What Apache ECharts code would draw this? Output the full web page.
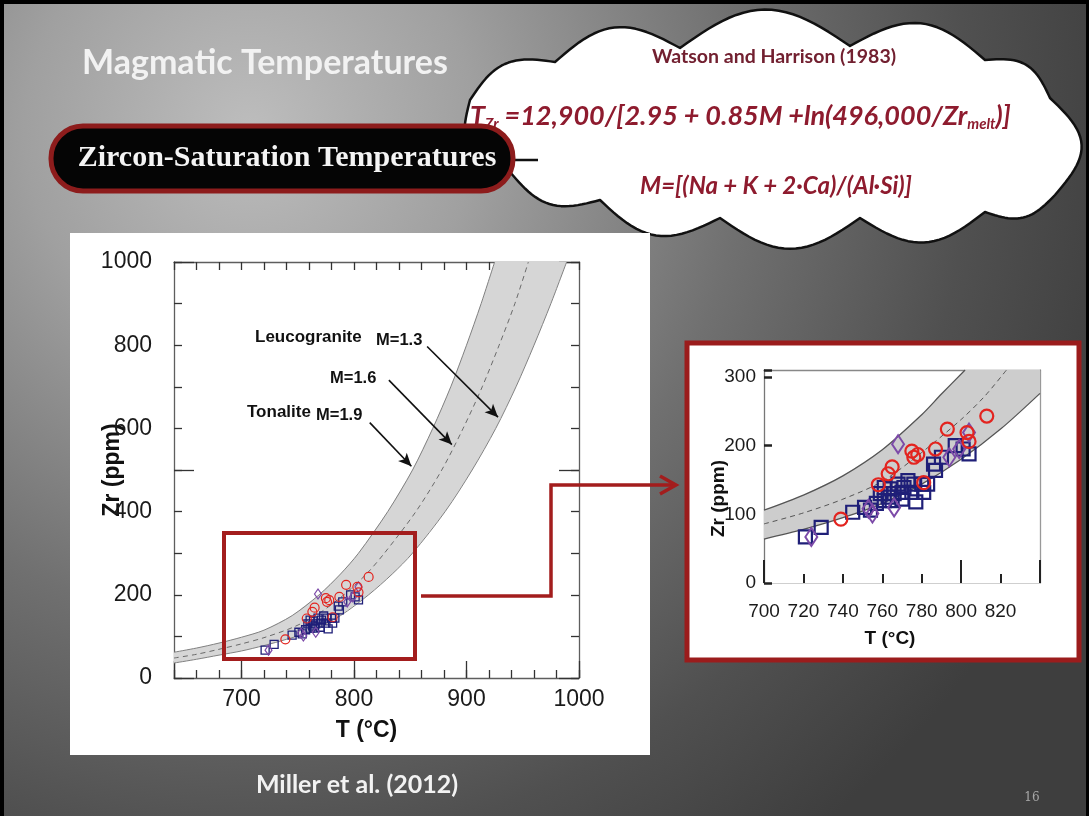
<!DOCTYPE html>
<html>
<head>
<meta charset="utf-8">
<script src="https://cdn.jsdelivr.net/npm/echarts@6/dist/echarts.min.js"></script>
<style>
  html, body { margin: 0; padding: 0; background: #4a4a4a; }
  #c { width: 1089px; height: 816px; }
</style>
</head>
<body>
<div id="c"></div>
<script>
// ---------- Zircon-saturation curves, [T (°C), Zr (ppm)] ----------
// Main panel: M = 1.9 (tonalite), 1.6, 1.3 (leucogranite)
const curveM19 = [[640, 62], [660, 72], [680, 84], [700, 98], [720, 115], [745, 150], [769, 200],
                  [788, 250], [804, 300], [830, 400], [852, 500], [870, 600], [886, 700], [900, 800], [913, 900], [925, 1000]];
const curveM16 = [[640, 48], [660, 57], [680, 69], [700, 82], [720, 97], [745, 121], [766, 150], [791, 200],
                  [811, 250], [827, 300], [855, 400], [878, 500], [897, 600], [914, 700], [929, 800], [943, 900], [955, 1000]];
const curveM13 = [[640, 36], [660, 45], [680, 55], [700, 65], [720, 78], [740, 93], [760, 110], [788, 150], [813, 200],
                  [834, 250], [852, 300], [881, 400], [905, 500], [926, 600], [944, 700], [960, 800], [975, 900], [989, 1000]];

// Enlarged panel curves
const zoomM19 = [[700, 106], [720, 128], [740, 156], [760, 194], [780, 245], [790, 275], [802, 310]];
const zoomM16 = [[700, 86], [720, 102], [740, 122], [760, 148], [780, 190], [800, 238], [812, 272], [823, 310]];
const zoomM13 = [[700, 64], [720, 78], [740, 95], [760, 116], [780, 144], [800, 180], [820, 224], [840, 276]];

// ---------- Samples, [T (°C), Zr (ppm)] ----------
const samplesSquare = [[721, 67], [729, 81], [745, 103], [751, 110], [754, 106], [757, 116],
                       [759, 130], [761, 139], [763, 125], [764, 137], [766, 130], [768, 144], [770, 132],
                       [771, 139], [773, 149], [775, 132], [776, 144], [761, 120], [765, 120], [770, 122],
                       [777, 118], [780, 144], [783, 144], [781, 132], [787, 164], [786, 173], [790, 183],
                       [797, 200], [801, 195], [804, 188]];
const samplesDiamond = [[724, 67], [755, 101], [753, 108], [766, 110], [768, 202], [794, 183], [799, 195], [804, 219]];
const samplesCircle = [[739, 93], [758, 143], [763, 159], [765, 169], [775, 192], [776, 183], [778, 187],
                       [781, 146], [787, 195], [793, 224], [803, 219], [804, 206], [813, 243]];

// ---------- Tick labels ----------
const mainXLabels = [700, 800, 900, 1000];
const mainYLabels = [0, 200, 400, 600, 800, 1000];
const zoomXLabels = [700, 720, 740, 760, 780, 800, 820];
const zoomYLabels = [0, 100, 200, 300];

// Pointer arrows from the curve labels, [[T, Zr], [T, Zr]]
const pointerArrows = [
  [[865, 797], [928, 627]],
  [[831, 716], [887, 561]],
  [[814, 614], [851, 509]]
];

// ---------- Styling ----------
const AX = '"Liberation Sans", Arial, sans-serif';
const SLIDE = 'Lato, "Open Sans", sans-serif';
const RED = '#e3241f', NAVY = '#1f1f78', PURPLE = '#7c4aa8';
const FRAME = '#5e5e5e';
const MAROON = '#8e1b2e';

const mainRange = { xMin: 640, xMax: 1000, yMin: 0, yMax: 1000 };
const zoomRange = { xMin: 700, xMax: 840, yMin: 0, yMax: 310 };

function bandSeries(upper, lower, xi, yi, fill, corner) {
  const pts = upper.concat(corner ? [corner] : [], lower.slice().reverse());
  return {
    type: 'custom', xAxisIndex: xi, yAxisIndex: yi, clip: true, silent: true, z: 1,
    data: [upper[0]],
    renderItem: function (params, api) {
      return {
        type: 'polygon',
        shape: { points: pts.map(function (p) { return api.coord(p); }) },
        style: { fill: fill, stroke: null }
      };
    }
  };
}

function curveSeries(data, xi, yi, color, width, dashed, extra) {
  return Object.assign({
    type: 'line', xAxisIndex: xi, yAxisIndex: yi, data: data, smooth: 0.3,
    showSymbol: false, symbol: 'none', silent: true, z: 3, clip: true,
    lineStyle: { color: color, width: width, type: dashed ? [5, 4] : 'solid' }
  }, extra || {});
}

function scatterSeries(data, xi, yi, symbol, size, color, lw) {
  return {
    type: 'scatter', xAxisIndex: xi, yAxisIndex: yi, data: data, symbol: symbol, symbolSize: size,
    silent: true, z: 5,
    itemStyle: { color: 'rgba(0,0,0,0)', borderColor: color, borderWidth: lw, opacity: 1 }
  };
}

function tickAxis(o) {
  return Object.assign({
    type: 'value', splitLine: { show: false }, nameMoveOverlap: false,
    axisLine: { show: true, onZero: false, lineStyle: { color: FRAME, width: 1.3 } },
    axisTick: { show: true, inside: true, length: 8, lineStyle: { color: '#333', width: 1.3 } },
    axisLabel: { show: false }
  }, o);
}

// ---------- Thought-cloud outline ----------
// notch points around the cloud (clockwise) and how far each following lobe bulges out
const cloudNotches = [[470, 100, 0.2], [555, 62, 0.22], [680, 48, 0.22], [850, 46, 0.22], [985, 60, 0.22],
                      [1050, 98, 0.3], [1055, 195, 0.2], [985, 212, 0.22], [860, 218, 0.22],
                      [720, 218, 0.22], [600, 200, 0.2], [510, 172, 0.3]];
function cloudPath(notches) {
  const pts = [];
  for (let i = 0; i < notches.length; i++) {
    const a = notches[i], b = notches[(i + 1) % notches.length];
    const dx = b[0] - a[0], dy = b[1] - a[1], len = Math.sqrt(dx * dx + dy * dy);
    const nx = dy / len, ny = -dx / len, sag = a[2] * len;
    for (let k = 0; k < 24; k++) {
      const t = k / 24, bump = sag * Math.sin(Math.PI * t);
      pts.push([a[0] + dx * t + nx * bump, a[1] + dy * t + ny * bump]);
    }
  }
  return pts;
}

const graphics = [];
// slide background
graphics.push({
  type: 'rect', z: -100, shape: { x: 0, y: 0, width: 1089, height: 816 },
  style: { fill: { type: 'radial', x: 250, y: 130, r: 900, global: true,
    colorStops: [{ offset: 0, color: '#bdbdbd' }, { offset: 0.25, color: '#a0a0a0' },
                 { offset: 0.55, color: '#707070' }, { offset: 0.8, color: '#505050' },
                 { offset: 1, color: '#3e3e3e' }] } }
});
graphics.push({ type: 'rect', z: -99, shape: { x: 0, y: 0, width: 1089, height: 4 }, style: { fill: '#000' } });
graphics.push({ type: 'rect', z: -99, shape: { x: 0, y: 0, width: 4, height: 816 }, style: { fill: '#000' } });
graphics.push({ type: 'rect', z: -99, shape: { x: 1086, y: 0, width: 3, height: 816 }, style: { fill: '#000' } });

// title
graphics.push({
  type: 'text', z: -95, x: 82, y: 63,
  style: { text: 'Magmatic Temperatures', fill: '#f2f2f2', fontFamily: SLIDE, fontWeight: 'bold', fontSize: 34,
           align: 'left', verticalAlign: 'middle', textAlign: 'left', textVerticalAlign: 'middle',
           shadowColor: 'rgba(0,0,0,0.35)', shadowBlur: 3, shadowOffsetX: 1, shadowOffsetY: 1 }
});

// cloud
graphics.push({ type: 'polygon', z: -92, shape: { points: cloudPath(cloudNotches) },
                style: { fill: '#ffffff', stroke: '#111', lineWidth: 2.5, lineJoin: 'round' } });

// cloud text
graphics.push({
  type: 'text', z: -89, x: 774, y: 57,
  style: { text: 'Watson and Harrison (1983)', fill: '#722030', fontFamily: SLIDE, fontWeight: 'bold', fontSize: 19.5,
           align: 'center', verticalAlign: 'middle', textAlign: 'center', textVerticalAlign: 'middle' }
});
graphics.push({
  type: 'text', z: -89, x: 470, y: 116,
  style: {
    text: '{b|T}{s|Zr}{b| =12,900/[2.95 + 0.85M +ln(496,000/Zr}{s|melt}{b|)]}',
    align: 'left', verticalAlign: 'middle', textAlign: 'left', textVerticalAlign: 'middle',
    rich: {
      b: { fill: MAROON, fontFamily: SLIDE, fontWeight: 'bold', fontStyle: 'italic', fontSize: 27,
           lineHeight: 34, verticalAlign: 'bottom', padding: [0, 0, 3, 0] },
      s: { fill: MAROON, fontFamily: SLIDE, fontWeight: 'bold', fontStyle: 'italic', fontSize: 15,
           lineHeight: 34, verticalAlign: 'bottom', padding: [0, 0, 1, 0] }
    }
  }
});
graphics.push({
  type: 'text', z: -89, x: 776, y: 186,
  style: { text: 'M=[(Na + K + 2·Ca)/(Al·Si)]', fill: MAROON, fontFamily: SLIDE, fontWeight: 'bold',
           fontStyle: 'italic', fontSize: 24,
           align: 'center', verticalAlign: 'middle', textAlign: 'center', textVerticalAlign: 'middle' }
});

// heading pill
graphics.push({ type: 'line', z: -88, shape: { x1: 505, y1: 160, x2: 538, y2: 160 }, style: { stroke: '#111', lineWidth: 2.5 } });
graphics.push({
  type: 'rect', z: -88, shape: { x: 51, y: 126, width: 462, height: 65, r: 32 },
  style: { fill: '#050505', stroke: '#8d1c1c', lineWidth: 5 }
});
graphics.push({
  type: 'text', z: -87, x: 287, y: 158,
  style: { text: 'Zircon-Saturation Temperatures', fill: '#f4f4f4', fontFamily: '"Liberation Serif", "Times New Roman", serif',
           fontWeight: 'bold', fontSize: 30,
           align: 'center', verticalAlign: 'middle', textAlign: 'center', textVerticalAlign: 'middle' }
});

// figure panels
graphics.push({ type: 'rect', z: -80, shape: { x: 70, y: 233, width: 580, height: 522 }, style: { fill: '#ffffff' } });
graphics.push({ type: 'rect', z: -80, shape: { x: 687, y: 343, width: 392, height: 317 },
                style: { fill: '#ffffff', stroke: '#9b1c1c', lineWidth: 5 } });

// curve labels
function note(text, x, y, size) {
  return { type: 'text', z: 50, x: x, y: y,
           style: { text: text, fill: '#111', fontFamily: AX, fontWeight: 'bold', fontSize: size,
                    align: 'left', verticalAlign: 'middle', textAlign: 'left', textVerticalAlign: 'middle' } };
}
graphics.push(note('Leucogranite', 255, 337, 17));
graphics.push(note('M=1.3', 376, 340, 16.5));
graphics.push(note('M=1.6', 330, 378, 16.5));
graphics.push(note('Tonalite', 247, 412, 17));
graphics.push(note('M=1.9', 316, 415, 16.5));

// highlight box and connector
graphics.push({ type: 'rect', z: 60, shape: { x: 224, y: 533, width: 191, height: 126 },
                style: { fill: null, stroke: '#a31d1d', lineWidth: 4 } });
graphics.push({ type: 'polyline', z: 60, shape: { points: [[421, 596], [551, 596], [551, 485], [674, 485]] },
                style: { fill: null, stroke: '#a31d1d', lineWidth: 3.5 } });
graphics.push({ type: 'polyline', z: 60, shape: { points: [[660, 476], [676, 485], [660, 494]] },
                style: { fill: null, stroke: '#a31d1d', lineWidth: 3.5 } });

// source + page number
graphics.push({
  type: 'text', z: -70, x: 357, y: 785,
  style: { text: 'Miller et al. (2012)', fill: '#f2f2f2', fontFamily: SLIDE, fontWeight: 'bold', fontSize: 25,
           align: 'center', verticalAlign: 'middle', textAlign: 'center', textVerticalAlign: 'middle' }
});
graphics.push({
  type: 'text', z: -70, x: 1032, y: 798,
  style: { text: '16', fill: '#a8a8a8', fontFamily: '"DejaVu Serif", serif', fontSize: 12,
           align: 'center', verticalAlign: 'middle', textAlign: 'center', textVerticalAlign: 'middle' }
});

const option = {
  animation: false,
  backgroundColor: 'transparent',
  graphic: { elements: graphics },
  grid: [
    { left: 174, top: 262, width: 405, height: 416 },
    { left: 764, top: 370, width: 276, height: 213 }
  ],
  xAxis: [
    // main panel
    tickAxis({ gridIndex: 0, position: 'bottom', min: mainRange.xMin, max: mainRange.xMax, interval: 20,
               name: 'T (°C)', nameLocation: 'middle', nameGap: 41,
               nameTextStyle: { fontFamily: AX, fontWeight: 'bold', fontSize: 23, color: '#111', padding: [0, 20, 0, 0] } }),
    tickAxis({ gridIndex: 0, position: 'bottom', min: mainRange.xMin, max: mainRange.xMax, splitNumber: 4,
               axisLine: { show: false }, axisTick: { show: true, inside: true, length: 17, lineStyle: { color: '#333', width: 1.3 } },
               axisLabel: { show: true, margin: 10, fontFamily: AX, fontSize: 23, color: '#1a1a1a',
                            formatter: function (v) { return mainXLabels.indexOf(v) >= 0 ? String(v) : ''; } } }),
    tickAxis({ gridIndex: 0, position: 'top', min: mainRange.xMin, max: mainRange.xMax, interval: 20 }),
    // enlarged panel
    tickAxis({ gridIndex: 1, position: 'bottom', min: zoomRange.xMin, max: zoomRange.xMax, interval: 20,
               axisLine: { show: true, onZero: false, lineStyle: { color: '#cfcfcf', width: 1 } },
               axisTick: { show: true, inside: true, length: 9, lineStyle: { color: '#222', width: 2 } },
               axisLabel: { show: true, margin: 19, fontFamily: AX, fontSize: 19, color: '#1a1a1a',
                            formatter: function (v) { return zoomXLabels.indexOf(v) >= 0 ? String(v) : ''; } },
               name: 'T (°C)', nameLocation: 'middle', nameGap: 46,
               nameTextStyle: { fontFamily: AX, fontWeight: 'bold', fontSize: 19, color: '#111', padding: [0, 24, 0, 0] } }),
    tickAxis({ gridIndex: 1, position: 'bottom', min: zoomRange.xMin, max: zoomRange.xMax, interval: 100,
               axisLine: { show: false },
               axisTick: { show: true, inside: true, length: 23, lineStyle: { color: '#222', width: 2 } } }),
    tickAxis({ gridIndex: 1, position: 'top', min: zoomRange.xMin, max: zoomRange.xMax,
               axisLine: { show: true, onZero: false, lineStyle: { color: '#888', width: 1.3 } },
               axisTick: { show: false } })
  ],
  yAxis: [
    // main panel
    tickAxis({ gridIndex: 0, position: 'left', min: mainRange.yMin, max: mainRange.yMax, interval: 100,
               axisLabel: { show: true, margin: 22, fontFamily: AX, fontSize: 23, color: '#1a1a1a',
                            formatter: function (v) { return mainYLabels.indexOf(v) >= 0 ? String(v) : ''; } },
               name: 'Zr (ppm)', nameLocation: 'middle', nameGap: 50,
               nameTextStyle: { fontFamily: AX, fontWeight: 'bold', fontSize: 23, color: '#111' } }),
    tickAxis({ gridIndex: 0, position: 'right', min: mainRange.yMin, max: mainRange.yMax, interval: 100 }),
    tickAxis({ gridIndex: 0, position: 'left', min: mainRange.yMin, max: mainRange.yMax, interval: 500,
               axisLine: { show: false }, axisTick: { show: true, inside: true, length: 20, lineStyle: { color: '#333', width: 1.3 } } }),
    tickAxis({ gridIndex: 0, position: 'right', min: mainRange.yMin, max: mainRange.yMax, interval: 500,
               axisLine: { show: false }, axisTick: { show: true, inside: true, length: 20, lineStyle: { color: '#333', width: 1.3 } } }),
    // enlarged panel
    tickAxis({ gridIndex: 1, position: 'left', min: zoomRange.yMin, max: zoomRange.yMax, interval: 100,
               axisLine: { show: true, onZero: false, lineStyle: { color: '#777', width: 1.3 } },
               axisTick: { show: true, inside: true, length: 8, lineStyle: { color: '#222', width: 2.5 } },
               axisLabel: { show: true, margin: 8, fontFamily: AX, fontSize: 19, color: '#1a1a1a',
                            formatter: function (v) { return zoomYLabels.indexOf(v) >= 0 ? String(v) : ''; } },
               name: 'Zr (ppm)', nameLocation: 'middle', nameGap: 36,
               nameTextStyle: { fontFamily: AX, fontWeight: 'bold', fontSize: 19, color: '#111', padding: [0, 44, 0, 0] } }),
    tickAxis({ gridIndex: 1, position: 'right', min: zoomRange.yMin, max: zoomRange.yMax,
               axisLine: { show: true, onZero: false, lineStyle: { color: '#999', width: 1.3 } },
               axisTick: { show: false } })
  ],
  series: [
    // main panel
    bandSeries(curveM19, curveM13, 0, 0, '#d6d6d6'),
    curveSeries(curveM19, 0, 0, '#808080', 1, false),
    curveSeries(curveM13, 0, 0, '#808080', 1, false),
    curveSeries(curveM16, 0, 0, '#6a6a6a', 1, true, {
      markLine: {
        silent: true, symbol: ['none', 'arrow'], symbolSize: [9, 13], animation: false,
        label: { show: false },
        lineStyle: { color: '#111', width: 1.6, type: 'solid' },
        emphasis: { disabled: true },
        data: pointerArrows.map(function (a) { return [{ coord: a[0] }, { coord: a[1] }]; })
      }
    }),
    scatterSeries(samplesSquare, 0, 0, 'rect', 8, NAVY, 1.3),
    scatterSeries(samplesDiamond, 0, 0, 'diamond', [7, 10], PURPLE, 1.2),
    scatterSeries(samplesCircle, 0, 0, 'circle', 9, RED, 1.2),
    // enlarged panel
    bandSeries(zoomM19, zoomM13, 3, 4, '#cdcdcd', [zoomRange.xMax, zoomRange.yMax]),
    curveSeries(zoomM19, 3, 4, '#555', 1.3, false),
    curveSeries(zoomM13, 3, 4, '#555', 1.3, false),
    curveSeries(zoomM16, 3, 4, '#555', 1, true),
    scatterSeries(samplesSquare, 3, 4, 'rect', 13, NAVY, 2.2),
    scatterSeries(samplesDiamond, 3, 4, 'diamond', [12, 18], PURPLE, 2),
    scatterSeries(samplesCircle, 3, 4, 'circle', 13, RED, 2.2)
  ]
};

const chart = echarts.init(document.getElementById('c'), null, { renderer: 'canvas', width: 1089, height: 816 });
chart.setOption(option);
</script>
</body>
</html>
